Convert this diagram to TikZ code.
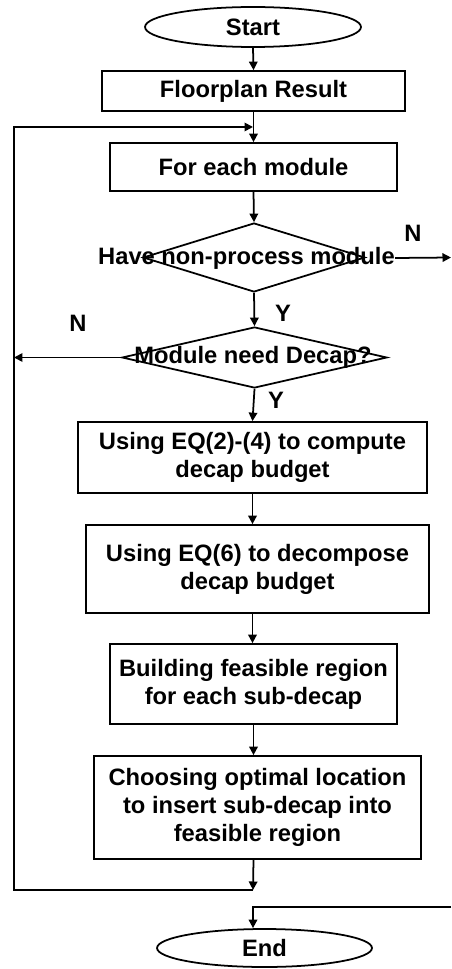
\documentclass[tikz,border=0pt]{standalone}
\usepackage{fontspec}
\setmainfont{Liberation Sans}
\usetikzlibrary{shapes.geometric,arrows.meta}

\begin{document}
\begin{tikzpicture}[x=0.02cm,y=-0.02cm]
	\tikzstyle{every node}+=[inner sep=0pt,align=center,font=\fontsize{13.5}{16}\selectfont\bfseries]
	\tikzstyle{box}=[draw,line width=1pt,rectangle]
	\tikzstyle{term}=[draw,line width=1pt,ellipse]
	\tikzstyle{cond}=[draw,line width=1pt,diamond]
	\tikzstyle{arr}=[line width=1pt,-{Triangle[length=1.7mm,width=1.7mm]}]
	\useasboundingbox (0,0) rectangle (451,969);
	% blocks
	\node [term,minimum width=4.32cm,minimum height=0.8cm] (start) at (253,27) {Start};
	\node [box,minimum width=6.06cm,minimum height=0.8cm] (floor) at (253.5,91) {Floorplan Result};
	\node [box,minimum width=5.74cm,minimum height=0.96cm] (each) at (253.5,167) {For each module};
	\node [cond,minimum width=4.44cm,minimum height=1.38cm] (dia1) at (254,257.5) {};
	\node (txt1) at (246.5,258) {Have non-process module};
	\node [cond,minimum width=5.3cm,minimum height=1.22cm] (dia2) at (254.5,357.5) {};
	\node (txt2) at (253,357) {Module need Decap?};
	\node [box,minimum width=6.98cm,minimum height=1.42cm] (budget) at (252.5,457.5) {Using EQ(2)-(4) to compute\\decap budget};
	\node [box,minimum width=6.86cm,minimum height=1.76cm] (split) at (257.5,569) {Using EQ(6) to decompose\\decap budget};
	\node [box,minimum width=5.74cm,minimum height=1.6cm] (region) at (253.5,684) {Building feasible region\\for each sub-decap};
	\node [box,minimum width=6.54cm,minimum height=2.06cm] (place) at (257.5,807.5) {Choosing optimal location\\to insert sub-decap into\\feasible region};
	\node [term,minimum width=4.3cm,minimum height=0.76cm] (end) at (264.5,948) {End};
	% labels
	\node (n1) at (413,233) {N};
	\node (y1) at (283,313) {Y};
	\node (n2) at (78,323) {N};
	\node (y2) at (276,400) {Y};
	% helper points
	\coordinate (back) at (253,127);
	\coordinate (join) at (253,890);
	\coordinate (left) at (14,127);
	\coordinate (out1) at (451,257.5);
	\coordinate (out2) at (451,907);
	% connectors
	\draw [arr] (start.south) -- (floor.north);
	\draw [arr] (floor.south) -- (each.north);
	\draw [arr] (each.south) -- (dia1.north);
	\draw [arr] (dia1.south) -- (dia2.north);
	\draw [arr] (dia2.south) -- (budget.north);
	\draw [arr] (budget.south) -- (budget.south |- split.north);
	\draw [arr] (budget.south |- split.south) -- (budget.south |- region.north);
	\draw [arr] (region.south) -- (region.south |- place.north);
	\draw [arr] (region.south |- place.south) -- (join);
	\draw [arr] (join) -| (left) -- (back);
	\draw [arr] (dia2.west) -- (dia2.west -| left);
	\draw [arr] (txt1.east) -- (out1);
	\draw [arr] (out2) -| (join |- end.north);
\end{tikzpicture}
\end{document}
